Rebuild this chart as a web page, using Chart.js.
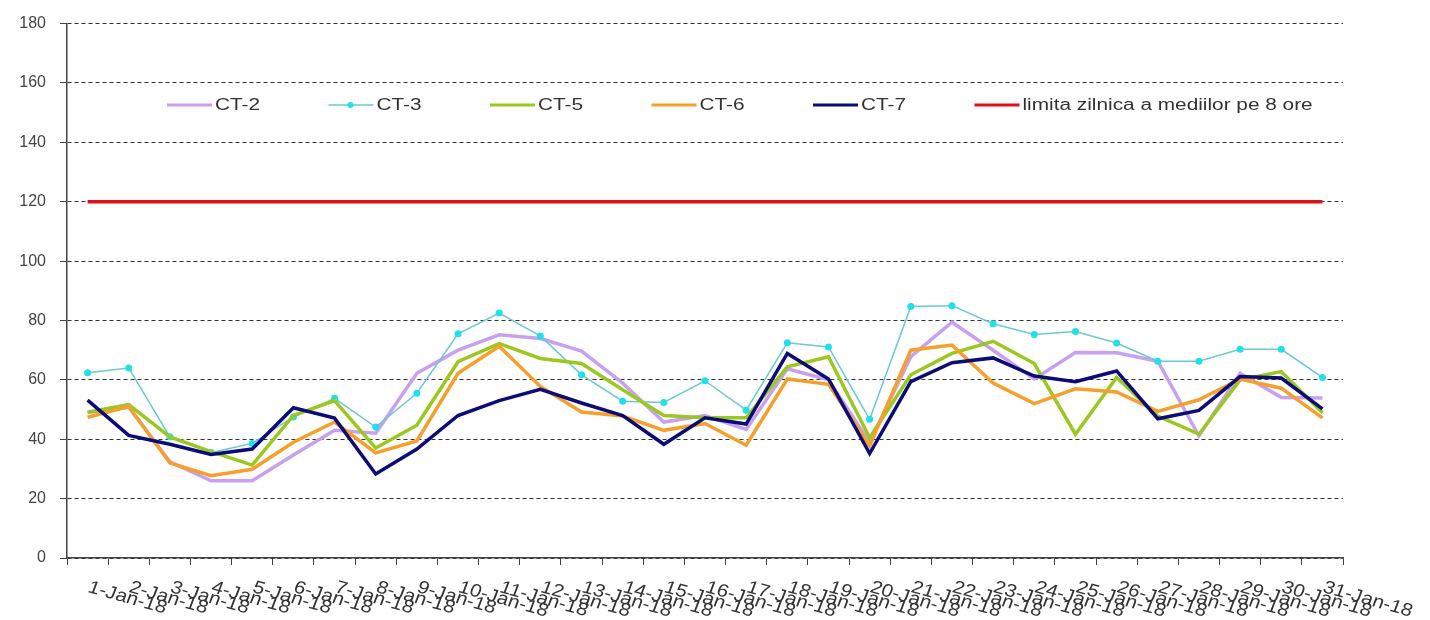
<!DOCTYPE html>
<html>
<head>
<meta charset="utf-8">
<script src="https://cdn.jsdelivr.net/npm/chart.js@4"></script>
<style>
  body { margin: 0; background: #fff; }
  #wrap { width: 1430px; height: 620px; }
</style>
</head>
<body>
<div id="wrap"><canvas id="pm10Chart" width="1430" height="620"></canvas></div>
<script>
// daily values, Jan 2018
var days = ['1-Jan-18', '2-Jan-18', '3-Jan-18', '4-Jan-18', '5-Jan-18', '6-Jan-18', '7-Jan-18', '8-Jan-18',
    '9-Jan-18', '10-Jan-18', '11-Jan-18', '12-Jan-18', '13-Jan-18', '14-Jan-18', '15-Jan-18', '16-Jan-18',
    '17-Jan-18', '18-Jan-18', '19-Jan-18', '20-Jan-18', '21-Jan-18', '22-Jan-18', '23-Jan-18', '24-Jan-18',
    '25-Jan-18', '26-Jan-18', '27-Jan-18', '28-Jan-18', '29-Jan-18', '30-Jan-18', '31-Jan-18'];

var ct2 = [49, 50.8, 32.4, 26, 26, 34.7, 43, 42, 62.2, 70, 75.2, 73.9, 69.7, 58.9, 45.8, 48,
    43.3, 63.7, 60, 38.9, 67.8, 79.4, 70, 60.3, 69.2, 69.1, 66.3, 41.1, 62.2, 54.1, 53.9];
var ct3 = [62.4, 64, 40.8, 35.5, 38.6, 47.5, 53.8, 44.1, 55.5, 75.5, 82.5, 74.8, 61.7, 52.8, 52.4, 59.7,
    49.8, 72.5, 71.1, 46.7, 84.7, 85, 78.9, 75.3, 76.3, 72.4, 66.3, 66.3, 70.3, 70.3, 60.8];
var ct5 = [49.1, 51.7, 40.8, 35.8, 31.3, 48, 53, 37, 44.7, 66.1, 72.2, 67.2, 65.5, 56.7, 48, 47.2,
    47.2, 64.4, 67.8, 40.5, 61.7, 68.9, 73, 65.5, 41.7, 60.8, 47.8, 41.7, 60, 62.8, 48.9];
var ct6 = [47.4, 51, 32, 27.7, 29.9, 39, 45.8, 35.4, 39.4, 62.2, 71.3, 57.8, 49.2, 47.8, 43, 45.3,
    38, 60.3, 58.5, 37.8, 70, 71.7, 58.9, 52, 57, 55.9, 49.4, 53.3, 60.3, 57.2, 47.2];
var ct7 = [53.2, 41.3, 38.3, 34.9, 36.7, 50.6, 47.1, 28.3, 36.7, 48, 53, 56.8, 52.2, 48, 38.3, 47.2,
    45.1, 68.9, 60.3, 35.2, 59.4, 65.8, 67.4, 61.3, 59.4, 63, 46.9, 49.7, 61.1, 60.6, 50.2];
var limita = [120, 120, 120, 120, 120, 120, 120, 120, 120, 120, 120, 120, 120, 120, 120, 120,
    120, 120, 120, 120, 120, 120, 120, 120, 120, 120, 120, 120, 120, 120, 120];

var yTicks = [0, 20, 40, 60, 80, 100, 120, 140, 160, 180];

var FONT = '"Liberation Sans", Arial, sans-serif';

// legend inside the plot, like the excel one
var legendPlugin = {
    id: 'insideLegend',
    afterDraw: function (chart) {
        var ctx = chart.ctx;
        var y = 105;
        ctx.save();
        chart.data.datasets.forEach(function (ds, i) {
            var x = 167 + i * 161.5;
            ctx.strokeStyle = ds.borderColor;
            ctx.lineWidth = ds.label === 'CT-3' ? 1.5 : 3;
            ctx.beginPath();
            ctx.moveTo(x, y);
            ctx.lineTo(x + 45, y);
            ctx.stroke();
            if (ds.label === 'CT-3') {
                ctx.fillStyle = ds.pointBackgroundColor;
                ctx.beginPath();
                ctx.arc(x + 22, y, 3, 0, Math.PI * 2);
                ctx.fill();
            }
            ctx.save();
            ctx.translate(x + 48, y + 1);
            ctx.scale(1.3, 1);
            ctx.fillStyle = '#333';
            ctx.font = '16px ' + FONT;
            ctx.textBaseline = 'middle';
            ctx.fillText(ds.label, 0, 0);
            ctx.restore();
        });
        ctx.restore();
    }
};

// slanted date labels hanging from the ticks
var dateLabels = {
    id: 'dateLabels',
    afterDraw: function (chart) {
        var ctx = chart.ctx;
        var xs = chart.scales.x;
        ctx.save();
        ctx.fillStyle = '#333';
        ctx.font = '18px ' + FONT;
        ctx.textAlign = 'left';
        ctx.textBaseline = 'middle';
        days.forEach(function (d, i) {
            var x = xs.getPixelForValue(i);
            ctx.save();
            ctx.translate(x + 1, xs.top + 29);
            ctx.scale(1.15, 1);
            ctx.rotate(18 * Math.PI / 180);
            ctx.fillText(d, 0, 0);
            ctx.restore();
        });
        ctx.restore();
    }
};

var thick = function (label, color, data, order) {
    return {
        label: label, data: data, borderColor: color, backgroundColor: color,
        borderWidth: 3.5, pointRadius: 0, tension: 0, order: order
    };
};

new Chart(document.getElementById('pm10Chart').getContext('2d'), {
    type: 'line',
    data: {
        labels: days,
        datasets: [
            thick('CT-2', '#c8a0f0', ct2, 6),
            {
                label: 'CT-3', data: ct3, borderColor: '#6cc8d4', borderWidth: 1.5,
                pointRadius: 3.5, pointBackgroundColor: '#20e0ea', pointBorderWidth: 0,
                tension: 0, order: 5
            },
            thick('CT-5', '#9bc81e', ct5, 4),
            thick('CT-6', '#f5a02c', ct6, 3),
            thick('CT-7', '#0c0c78', ct7, 2),
            thick('limita zilnica a mediilor pe 8 ore', '#e0101a', limita, 1)
        ]
    },
    options: {
        responsive: false,
        animation: false,
        events: [],
        layout: { padding: { top: 19, right: 87, left: 0, bottom: 0 } },
        plugins: { legend: { display: false }, tooltip: { enabled: false } },
        scales: {
            x: {
                offset: true,
                afterFit: function (s) { s.height = 62; },
                grid: { offset: true, drawOnChartArea: false, drawTicks: true, tickLength: 7, color: '#444' },
                border: { display: true, color: '#444', width: 1.5 },
                ticks: { display: false }
            },
            y: {
                min: 0,
                max: 180,
                afterFit: function (s) { s.width = 67; },
                afterBuildTicks: function (s) { s.ticks = yTicks.map(function (v) { return { value: v }; }); },
                grid: { color: '#333', lineWidth: 1, tickLength: 7, tickBorderDash: [], tickColor: '#444' },
                border: { display: true, color: '#444', width: 1.5, dash: [4, 3] },
                ticks: { padding: 14, color: '#444', font: { size: 16, family: FONT } }
            }
        }
    },
    plugins: [legendPlugin, dateLabels]
});
</script>
</body>
</html>
